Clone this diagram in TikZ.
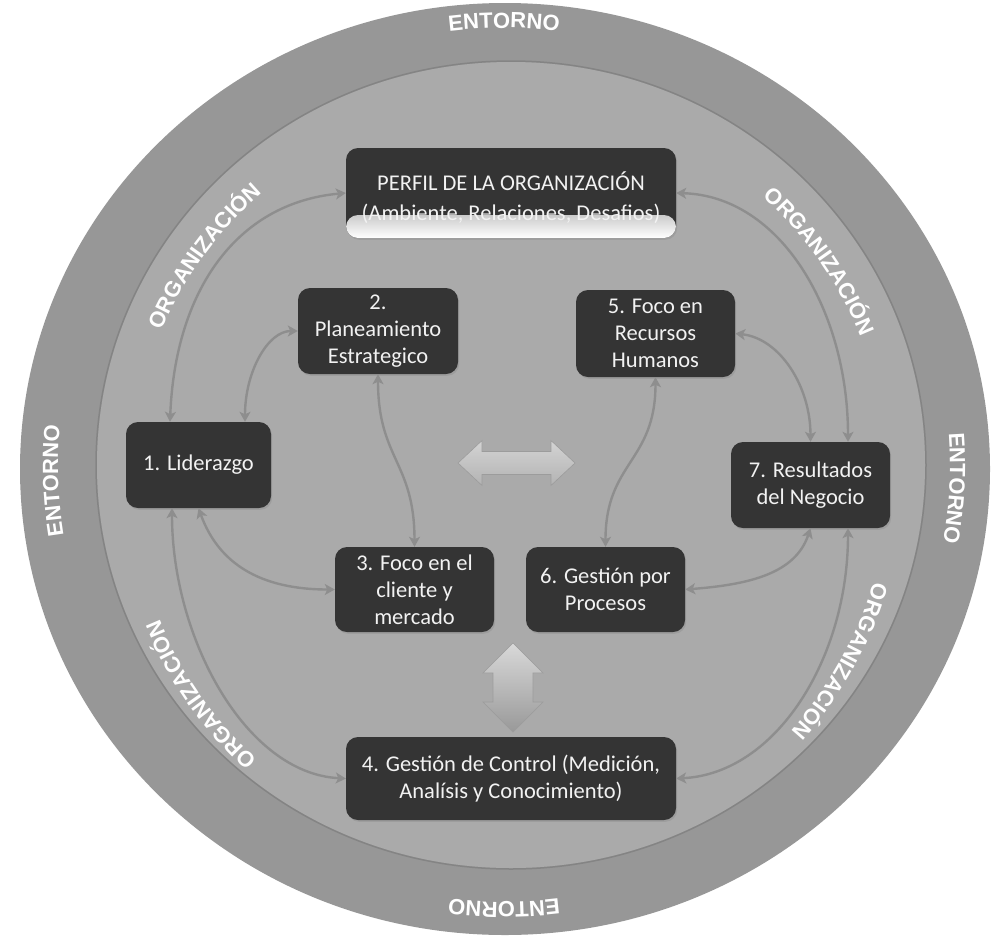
\documentclass[tikz,border=0pt]{standalone}
\usepackage{fontspec}
\setmainfont{Carlito}
\newfontfamily\bandfont{Liberation Sans}
\usetikzlibrary{arrows.meta,decorations.text,shadows}

\definecolor{ringout}{HTML}{979797}
\definecolor{ringmid}{HTML}{AAAAAA}
\definecolor{boxfill}{HTML}{343434}
\definecolor{boxtext}{HTML}{F2F2F2}
\definecolor{conncol}{HTML}{8E8E8E}
\definecolor{blockedge}{HTML}{9C9C9C}

\tikzset{
  box/.style={fill=boxfill, rounded corners=12pt, text=boxtext, align=center,
    inner sep=0pt, font=\fontsize{22.5}{27}\selectfont,
    drop shadow={opacity=0.3, shadow xshift=1.2pt, shadow yshift=-1.8pt}},
  conn/.style={draw=conncol, line width=2.4pt,
    arrows={Stealth[length=10pt,width=11pt,inset=2.5pt]-Stealth[length=10pt,width=11pt,inset=2.5pt]}},
  bandtext/.style={decorate, decoration={text along path, text align=center,
    text color=white, text={#1}}},
}

\begin{document}
\begin{tikzpicture}[x=1pt,y=1pt]
\useasboundingbox (0,0) rectangle (991,-938);

% rings
\fill[ringout] (505,-469) ellipse [x radius=485, y radius=466];
\fill[ringmid] (511,-465) ellipse [x radius=414, y radius=403];
\draw[black, opacity=0.12, line width=1.5pt] (511,-465) ellipse [x radius=415, y radius=404];

\coordinate (ec) at (504,-465);
\coordinate (oc) at (510,-478);

% ENTORNO labels on the outer ring, running clockwise
\path[bandtext={|\bandfont\bfseries\fontsize{22}{22}\selectfont|ENTORNO}]
  ([shift={(120:446 and 437)}]ec) arc[start angle=120, end angle=60, x radius=446, y radius=437];
\path[bandtext={|\bandfont\bfseries\fontsize{22}{22}\selectfont|ENTORNO}]
  ([shift={(27:446 and 437)}]ec) arc[start angle=27, end angle=-33, x radius=446, y radius=437];
\path[bandtext={|\bandfont\bfseries\fontsize{22}{22}\selectfont|ENTORNO}]
  ([shift={(-60:446 and 437)}]ec) arc[start angle=-60, end angle=-120, x radius=446, y radius=437];
\path[bandtext={|\bandfont\bfseries\fontsize{22}{22}\selectfont|ENTORNO}]
  ([shift={(212:446 and 437)}]ec) arc[start angle=212, end angle=152, x radius=446, y radius=437];

% ORGANIZACIÓN labels on the middle ring
\path[bandtext={|\bandfont\bfseries\fontsize{22}{22}\selectfont|ORGANIZACIÓN}]
  ([shift={(184:378)}]oc) arc[start angle=184, end angle=104, radius=378];
\path[bandtext={|\bandfont\bfseries\fontsize{22}{22}\selectfont|ORGANIZACIÓN}]
  ([shift={(75:378)}]oc) arc[start angle=75, end angle=-5, radius=378];
\path[bandtext={|\bandfont\bfseries\fontsize{22}{22}\selectfont|ORGANIZACIÓN}]
  ([shift={(11:378)}]oc) arc[start angle=11, end angle=-69, radius=378];
\path[bandtext={|\bandfont\bfseries\fontsize{22}{22}\selectfont|ORGANIZACIÓN}]
  ([shift={(-105:378)}]oc) arc[start angle=-105, end angle=-185, radius=378];

% boxes
\node[box, minimum width=330pt, minimum height=90pt,
  path picture={\shade[top color=boxfill, bottom color=white]
    ([yshift=23pt]path picture bounding box.south west) rectangle (path picture bounding box.south east);}]
  (perfil) at (511,-193) {};
\node[text=boxtext, align=center, font=\fontsize{22.5}{30}\selectfont]
  (perfiltext) at (511,-198) {PERFIL DE LA ORGANIZACIÓN\\(Ambiente, Relaciones, Desafios)};
\node[box, minimum width=160pt, minimum height=86pt] (b2) at (378,-331) {2.\\Planeamiento\\Estrategico};
\node[box, minimum width=159pt, minimum height=87pt] (b5) at (655.5,-333.5) {5. Foco en\\Recursos\\Humanos};
\node[box, minimum width=145pt, minimum height=86pt] (b1) at (198.5,-465) {1. Liderazgo};
\node[box, minimum width=159pt, minimum height=86pt] (b7) at (810.5,-485) {7. Resultados\\del Negocio};
\node[box, minimum width=159pt, minimum height=85pt] (b3) at (414.5,-589.5) {3. Foco en el\\cliente y\\mercado};
\node[box, minimum width=159pt, minimum height=85pt] (b6) at (605.5,-589.5) {6. Gestión por\\Procesos};
\node[box, minimum width=330pt, minimum height=83pt] (b4) at (511,-778.5) {4. Gestión de Control (Medición,\\Analísis y Conocimiento)};

% connectors
\draw[conn] (perfil.west) .. controls +(-110,-10) and +(5,130) .. ([xshift=-28.5pt]b1.north);
\draw[conn] ([xshift=46.5pt]b1.north) .. controls +(0,50) and +(-30,0) .. (b2.west);
\draw[conn] (b2.south) .. controls +(0,-85) and +(0,85) .. (b3.north);
\draw[conn] (b1.south) .. controls +(20,-55) and +(-75,0) .. (b3.west);
\draw[conn] ([xshift=-26.5pt]b1.south) .. controls +(0,-130) and +(-100,5) .. (b4.west);
\draw[conn] (b5.south) .. controls +(0,-85) and +(0,85) .. (b6.north);
\draw[conn] (b5.east) .. controls +(45,-5) and +(0,55) .. (b7.north);
\draw[conn] (perfil.east) .. controls +(105,-3) and +(0,130) .. ([xshift=37.5pt]b7.north);
\draw[conn] (b7.south) .. controls +(-15,-45) and +(65,5) .. (b6.east);
\draw[conn] ([xshift=37.5pt]b7.south) .. controls +(0,-130) and +(100,5) .. (b4.east);

% block arrows
\shade[top color=black!17, bottom color=black!30, draw=blockedge, line width=0.6pt]
  (458,-463) -- (482,-440.5) -- (482,-451.5) -- (551,-451.5) -- (551,-440.5) -- (575,-463)
  -- (551,-485.5) -- (551,-474.5) -- (482,-474.5) -- (482,-485.5) -- cycle;
\shade[top color=black!15, bottom color=black!40, draw=blockedge, line width=0.6pt]
  (513,-643) -- (543,-673) -- (533,-673) -- (533,-702) -- (543,-702) -- (513,-732)
  -- (483,-702) -- (493,-702) -- (493,-673) -- (483,-673) -- cycle;
\end{tikzpicture}
\end{document}
